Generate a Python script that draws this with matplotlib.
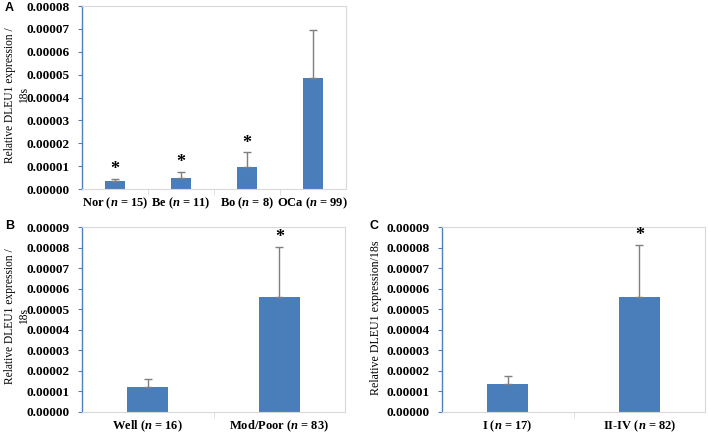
import numpy as np
import matplotlib
matplotlib.use("Agg")
import matplotlib.pyplot as plt
from matplotlib.ticker import FixedLocator

plt.rcParams['font.family'] = 'Liberation Serif'
plt.rcParams['mathtext.fontset'] = 'custom'
plt.rcParams['mathtext.it'] = 'Liberation Serif:italic:bold'
plt.rcParams['mathtext.rm'] = 'Liberation Serif:bold'

# panel A
a_labels = [r"Nor ($n$ = 15)", r"Be ($n$ = 11)", r"Bo ($n$ = 8)", r"OCa ($n$ = 99)"]
a_vals = [0.0000035, 0.0000050, 0.0000095, 0.0000487]
a_err = [0.0000008, 0.0000023, 0.0000065, 0.0000210]
a_star = [True, True, True, False]

# panel B
b_labels = [r"Well ($n$ = 16)", r"Mod/Poor ($n$ = 83)"]
b_vals = [0.0000120, 0.0000559]
b_err = [0.0000040, 0.0000246]
b_star = [False, True]

# panel C
c_labels = [r"I ($n$ = 17)", r"II-IV ($n$ = 82)"]
c_vals = [0.0000135, 0.0000561]
c_err = [0.0000040, 0.0000250]
c_star = [False, True]

bar_col = '#4a7ebb'
axis_blue = '#4f81bd'
frame_col = '#d9d9d9'


def panel(ax, labels, vals, err, star, ymax, step, bw):
    x = np.arange(len(vals))
    ax.bar(x, vals, width=bw, color=bar_col, zorder=2)
    ax.errorbar(x, vals, yerr=[np.zeros(len(err)), err], fmt='none',
                ecolor='#7f7f7f', elinewidth=1, capsize=3, capthick=1, zorder=3)
    for i in range(len(vals)):
        if star[i]:
            ax.text(x[i], vals[i] + err[i] + ymax * 0.005, '*', ha='center', va='bottom',
                    fontsize=13, fontweight='bold')
    ax.set_xlim(-0.5, len(vals) - 0.5)
    ax.set_ylim(0, ymax)
    ticks = np.arange(0, ymax + step / 2, step)
    ax.set_yticks(ticks)
    ax.set_yticklabels(['%.5f' % v for v in ticks], fontsize=9.5, fontweight='bold')
    ax.set_xticks(x)
    ax.set_xticklabels(labels, fontsize=9, fontweight='bold')
    ax.xaxis.set_minor_locator(FixedLocator(np.arange(0.5, len(vals) - 1, 1)))
    ax.tick_params(axis='x', which='major', length=0, pad=5)
    ax.tick_params(axis='x', which='minor', length=4, color=frame_col)
    ax.tick_params(axis='y', length=3, color=axis_blue, pad=6)
    ax.spines['left'].set_color(axis_blue)
    ax.spines['left'].set_linewidth(1)
    for s in ['top', 'right', 'bottom']:
        ax.spines[s].set_color(frame_col)
        ax.spines[s].set_linewidth(0.8)


fig = plt.figure(figsize=(7.09, 4.33), dpi=100)

axA = fig.add_axes([0.1157, 0.5635, 0.372, 0.4225])
panel(axA, a_labels, a_vals, a_err, a_star, 0.00008, 0.00001, 0.31)

axB = fig.add_axes([0.1157, 0.0485, 0.371, 0.4272])
panel(axB, b_labels, b_vals, b_err, b_star, 0.00009, 0.00001, 0.31)

axC = fig.add_axes([0.6234, 0.0485, 0.371, 0.4272])
panel(axC, c_labels, c_vals, c_err, c_star, 0.00009, 0.00001, 0.31)

# y labels placed by hand so they fit inside the narrow margin
fig.text(17 / 709, 1 - 95 / 433, 'Relative DLEU1 expression /\n18s', rotation=90,
         ha='center', va='center', fontsize=8.3, linespacing=1.3)
fig.text(17 / 709, 1 - 316 / 433, 'Relative DLEU1 expression /\n18s', rotation=90,
         ha='center', va='center', fontsize=8.3, linespacing=1.3)
fig.text(376 / 709, 1 - 318 / 433, 'Relative DLEU1 expression/18s', rotation=90,
         ha='center', va='center', fontsize=8.6)

fig.text(0.007, 0.975, 'A', fontsize=9, fontweight='bold', family='Liberation Sans')
fig.text(0.007, 0.472, 'B', fontsize=9, fontweight='bold', family='Liberation Sans')
fig.text(369 / 709, 0.472, 'C', fontsize=9, fontweight='bold', family='Liberation Sans')

fig.savefig('out.png', dpi=100)
